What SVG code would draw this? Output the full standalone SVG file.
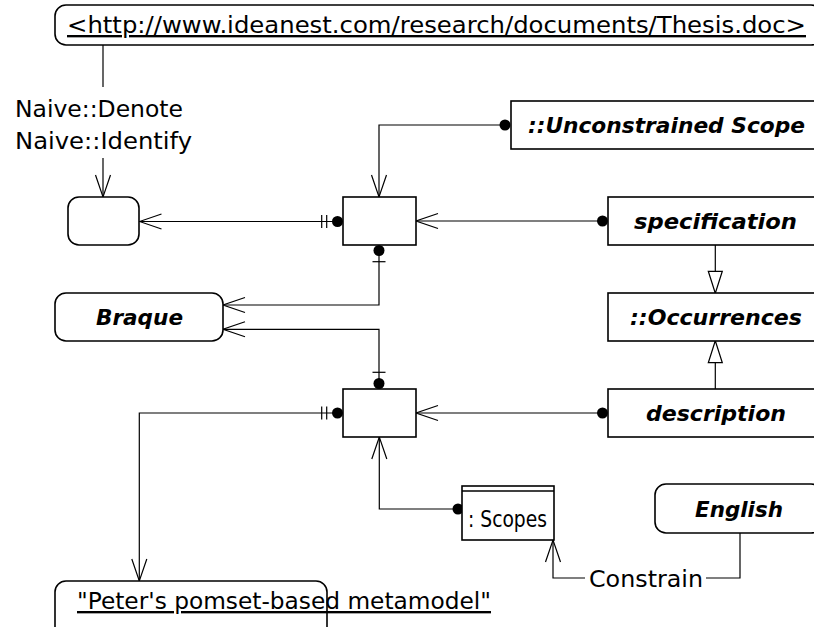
<svg xmlns="http://www.w3.org/2000/svg" width="814" height="627" viewBox="0 0 814 627">
<defs>
<style>
.n{fill:#fff;stroke:#000;stroke-width:1.6}
.e{fill:none;stroke:#000;stroke-width:1.2}
.t{font-family:"DejaVu Sans","Liberation Sans",sans-serif;font-size:23.5px;fill:#000}
.b{font-weight:bold;font-style:italic;font-size:22px}
.u{text-decoration:underline}
.dot{fill:#000;stroke:none}
</style>
<marker id="open" markerUnits="userSpaceOnUse" markerWidth="26" markerHeight="20" refX="24" refY="10" orient="auto"><path d="M2,2.5 L24,10 L2,17.5" fill="none" stroke="#000" stroke-width="1.2"/></marker>
<marker id="tri" markerUnits="userSpaceOnUse" markerWidth="26" markerHeight="20" refX="24" refY="10" orient="auto"><path d="M2,3 L24,10 L2,17 Z" fill="#fff" stroke="#000" stroke-width="1.2"/></marker>
</defs>
<rect width="814" height="627" fill="#fff"/>

<g id="connectors">
  <!-- URL to anonymous node -->
  <path class="e" d="M103,45 V87"/>
  <path class="e" d="M103,158 V197" marker-end="url(#open)"/>
  <text class="t" x="15" y="117" textLength="168" lengthAdjust="spacingAndGlyphs">Naive::Denote</text>
  <text class="t" x="15" y="149" textLength="177" lengthAdjust="spacingAndGlyphs">Naive::Identify</text>
  <!-- box1 to anonymous node -->
  <path class="e" d="M337,221.5 H139.5" marker-end="url(#open)"/>
  <path class="e" d="M321.7,215 V228 M326.7,215 V228"/>
  <circle class="dot" cx="337.5" cy="221.5" r="5.5"/>
  <!-- Unconstrained Scope to box1 -->
  <path class="e" d="M505,125 H379 V197" marker-end="url(#open)"/>
  <circle class="dot" cx="505" cy="125" r="5.5"/>
  <!-- specification to box1 -->
  <path class="e" d="M603,221 H416" marker-end="url(#open)"/>
  <circle class="dot" cx="602.5" cy="221" r="5.5"/>
  <!-- box1 to Braque -->
  <path class="e" d="M379,251 V305 H223" marker-end="url(#open)"/>
  <path class="e" d="M372.5,261.7 H385.5"/>
  <circle class="dot" cx="379" cy="250.5" r="5.5"/>
  <!-- box2 to Braque -->
  <path class="e" d="M379,383 V329.3 H223" marker-end="url(#open)"/>
  <path class="e" d="M372.5,372.3 H385.5"/>
  <circle class="dot" cx="379" cy="383.5" r="5.5"/>
  <!-- box2 to Peter -->
  <path class="e" d="M337,413 H139.3 V581" marker-end="url(#open)"/>
  <path class="e" d="M321.7,406.5 V419.5 M326.7,406.5 V419.5"/>
  <circle class="dot" cx="337.5" cy="413" r="5.5"/>
  <!-- description to box2 -->
  <path class="e" d="M602,413 H416" marker-end="url(#open)"/>
  <circle class="dot" cx="602.5" cy="413" r="5.5"/>
  <!-- Scopes to box2 -->
  <path class="e" d="M458,509 H379.3 V437" marker-end="url(#open)"/>
  <circle class="dot" cx="458" cy="509" r="5.5"/>
  <!-- generalizations -->
  <path class="e" d="M715.3,245 V293.3" marker-end="url(#tri)"/>
  <path class="e" d="M715.3,389 V340.7" marker-end="url(#tri)"/>
  <!-- English to Scopes via Constrain -->
  <path class="e" d="M740,533 V578 H706"/>
  <path class="e" d="M585,578 H553 V540" marker-end="url(#open)"/>
  <text class="t" x="589" y="587" textLength="114" lengthAdjust="spacingAndGlyphs">Constrain</text>
</g>

<g id="url">
  <rect class="n" x="55" y="5" width="767" height="40" rx="11"/>
  <text class="t u" x="67" y="33" textLength="739" lengthAdjust="spacingAndGlyphs">&lt;http://www.ideanest.com/research/documents/Thesis.doc&gt;</text>
</g>
<g id="anon">
  <rect class="n" x="68" y="197" width="71" height="48" rx="11"/>
</g>
<g id="box1">
  <rect class="n" x="343" y="197" width="73" height="48"/>
</g>
<g id="box2">
  <rect class="n" x="343" y="389" width="73" height="48"/>
</g>
<g id="unconstrained">
  <rect class="n" x="511" y="101" width="311" height="48"/>
  <text class="t b" x="528" y="133" textLength="277" lengthAdjust="spacingAndGlyphs">::Unconstrained Scope</text>
</g>
<g id="specification">
  <rect class="n" x="608" y="197" width="214" height="48"/>
  <text class="t b" x="634" y="229" textLength="163" lengthAdjust="spacingAndGlyphs">specification</text>
</g>
<g id="occurrences">
  <rect class="n" x="608" y="293" width="214" height="48"/>
  <text class="t b" x="630" y="325" textLength="172" lengthAdjust="spacingAndGlyphs">::Occurrences</text>
</g>
<g id="description">
  <rect class="n" x="608" y="389" width="214" height="48"/>
  <text class="t b" x="646" y="421" textLength="140" lengthAdjust="spacingAndGlyphs">description</text>
</g>
<g id="braque">
  <rect class="n" x="55" y="293" width="168" height="48" rx="11"/>
  <text class="t b" x="96" y="325" textLength="87" lengthAdjust="spacingAndGlyphs">Braque</text>
</g>
<g id="english">
  <rect class="n" x="655" y="484" width="167" height="49" rx="11"/>
  <text class="t b" x="695" y="517" textLength="88" lengthAdjust="spacingAndGlyphs">English</text>
</g>
<g id="scopes">
  <rect class="n" x="462" y="486" width="92" height="54"/>
  <path class="n" d="M462,491 H554"/>
  <text class="t" x="468" y="527" textLength="79" lengthAdjust="spacingAndGlyphs">: Scopes</text>
</g>
<g id="peter">
  <rect class="n" x="55" y="581" width="272" height="60" rx="11"/>
  <text class="t u" x="77" y="609" textLength="414" lengthAdjust="spacingAndGlyphs">"Peter's pomset-based metamodel"</text>
</g>
</svg>
